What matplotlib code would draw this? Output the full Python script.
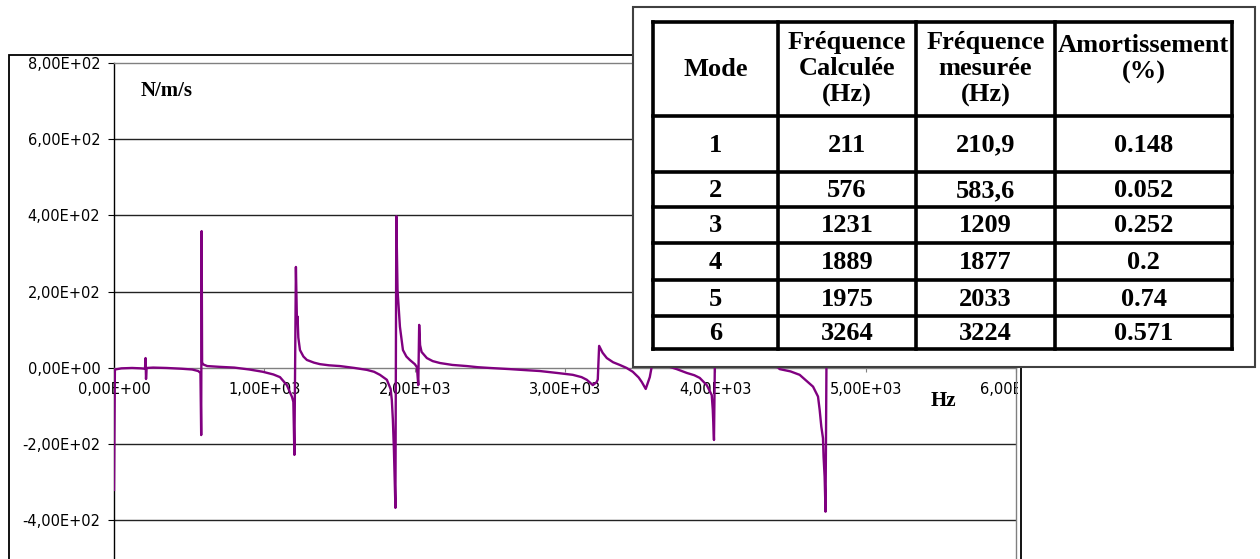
import matplotlib
matplotlib.use("Agg")
import matplotlib.pyplot as plt
from matplotlib.patches import Rectangle
from matplotlib.lines import Line2D
from matplotlib.ticker import FuncFormatter
from matplotlib.transforms import Bbox, TransformedBbox

# frequency response (Hz, N/m/s)
freq = [0, 6, 50, 120, 180, 206, 210, 213, 217, 260, 350, 450, 520, 560, 575,
        580, 583, 586, 595, 620, 700, 800, 900, 990, 1060, 1104, 1150, 1184,
        1193, 1200, 1210, 1217, 1221, 1226, 1237, 1260, 1283, 1330, 1370, 1430,
        1503, 1600, 1682, 1730, 1769, 1815, 1840, 1848, 1855, 1862, 1872, 1878,
        1886, 1902, 1922, 1945, 1968, 2001, 2015, 2024, 2030, 2036, 2046, 2081,
        2120, 2168, 2250, 2347, 2420, 2500, 2633, 2750, 2832, 2946, 3052, 3110,
        3145, 3185, 3211, 3218, 3227, 3250, 3278, 3320, 3364, 3410, 3451, 3490,
        3511, 3537, 3564, 3580, 3620, 3680, 3743, 3810, 3860, 3896, 3943, 3976,
        3983, 3991, 4003, 4015, 4050, 4150, 4300, 4415, 4428, 4500, 4561, 4650,
        4683, 4694, 4705, 4716, 4720, 4727, 4733, 4744, 4770, 4850, 5000, 5300,
        5600, 6000]
resp = [-320, -4, -1, 0, -1, -2, 26, -29, 0, 1, 0, -2, -4, -8, -13,
        -176, 359, 14, 9, 5, 3, 1, -4, -10, -17, -24, -45, -76,
        -89, -228, 265, 120, 135, 80, 47, 30, 21, 14, 10, 7,
        5, 0, -5, -10, -18, -31, -55, -84, -136, -215, -367, 398,
        205, 108, 47, 30, 21, 10, 2, -45, 113, 60, 42, 26,
        18, 13, 8, 5, 2, 0, -3, -6, -8, -13, -18, -24,
        -31, -45, -37, -30, 58, 40, 26, 15, 8, 0, -10, -25,
        -37, -55, -24, 10, 14, 5, -3, -13, -19, -26, -45, -71,
        -110, -189, 230, 110, 50, 25, 10, 2, -3, -9, -18, -49,
        -75, -110, -154, -184, -233, -285, -377, 310, 120, 60, 35, 20,
        14, 10]

x_ticks = [0, 1000, 2000, 3000, 4000, 5000, 6000]
y_ticks = [-400, -200, 0, 200, 400, 600, 800]
grid_levels = [-400, -200, 200, 400, 600]

# table of modes
headers = ["Mode", "Fréquence\nCalculée\n(Hz)", "Fréquence\nmesurée\n(Hz)", "Amortissement\n(%)"]
modes = ["1", "2", "3", "4", "5", "6"]
freq_calc = ["211", "576", "1231", "1889", "1975", "3264"]
freq_meas = ["210,9", "583,6", "1209", "1877", "2033", "3224"]
damping = ["0.148", "0.052", "0.252", "0.2", "0.74", "0.571"]

W, H = 1260, 559
fig = plt.figure(figsize=(W / 100, H / 100), dpi=100)


def fx(px):
    return px / W


def fy(py):
    return 1 - py / H


# plot area (bottom of it falls below the picture)
ax = fig.add_axes([fx(114), fy(596.7), (1016 - 114) / W, (596.7 - 63) / H])
ax.plot(freq, resp, color="#800080", lw=1.7, zorder=3)
ax.set_xlim(0, 6000)
ax.set_ylim(-600, 800)
ax.set_xticks(x_ticks)
ax.set_yticks(y_ticks)
fmt = FuncFormatter(lambda v, pos: f"{v:.2E}".replace(".", ","))
ax.xaxis.set_major_formatter(fmt)
ax.yaxis.set_major_formatter(fmt)
for g in grid_levels:
    ax.axhline(g, color="#222222", lw=1.0, zorder=1)

ax.spines["bottom"].set_position(("data", 0))
ax.spines["bottom"].set_color("#808080")
ax.spines["top"].set_color("#808080")
ax.spines["right"].set_color("#808080")
ax.spines["left"].set_color("black")
for s in ax.spines.values():
    s.set_linewidth(1.0)

ax.tick_params(axis="y", direction="out", length=4.3, width=0.8, pad=5.5,
               labelsize=10.5, colors="black")
ax.tick_params(axis="x", direction="out", length=2.9, width=0.8, pad=7.5,
               labelsize=10.5, color="#808080", labelcolor="black")

clip = TransformedBbox(Bbox([[0, 0], [fx(1018), 1]]), fig.transFigure)
for lab in ax.get_xticklabels():
    lab.set_clip_box(clip)
    lab.set_clip_on(True)

fig.text(fx(167), fy(91), "N/m/s", family="Liberation Serif", weight="bold",
         fontsize=15, ha="center", va="center")
fig.text(fx(943), fy(401), "Hz", family="Liberation Serif", weight="bold",
         fontsize=15, ha="center", va="center")

# outer chart border
fig.add_artist(Rectangle((fx(9), fy(600)), fx(1021) - fx(9), fy(55) - fy(600),
                         transform=fig.transFigure, fill=False, ec="black",
                         lw=1.3, zorder=2))

# table box on top of the chart
fig.add_artist(Rectangle((fx(633), fy(367)), fx(1255) - fx(633), fy(7) - fy(367),
                         transform=fig.transFigure, fc="white", ec="#404040",
                         lw=1.5, zorder=10))

cols = [653, 778, 916, 1055, 1232]
rows = [22, 116, 172, 207, 243, 280, 316, 349]
for c in cols:
    fig.add_artist(Line2D([fx(c), fx(c)], [fy(rows[0]), fy(rows[-1])],
                          transform=fig.transFigure, color="black", lw=2.6,
                          solid_capstyle="projecting", zorder=11))
for r in rows:
    fig.add_artist(Line2D([fx(cols[0]), fx(cols[-1])], [fy(r), fy(r)],
                          transform=fig.transFigure, color="black", lw=2.6,
                          solid_capstyle="projecting", zorder=11))

col_centers = [(cols[i] + cols[i + 1]) / 2 for i in range(4)]
header_y = [69, 69, 69, 59]
tfont = dict(family="Liberation Serif", weight="bold", fontsize=19,
             ha="center", va="center", zorder=12)
for i, h in enumerate(headers):
    fig.text(fx(col_centers[i]), fy(header_y[i]), h, linespacing=1.2, **tfont)

for j in range(6):
    yc = (rows[j + 1] + rows[j + 2]) / 2 + 1
    row_vals = [modes[j], freq_calc[j], freq_meas[j], damping[j]]
    for i, v in enumerate(row_vals):
        fig.text(fx(col_centers[i]), fy(yc), v, **tfont)

fig.savefig("out.png", dpi=100)
